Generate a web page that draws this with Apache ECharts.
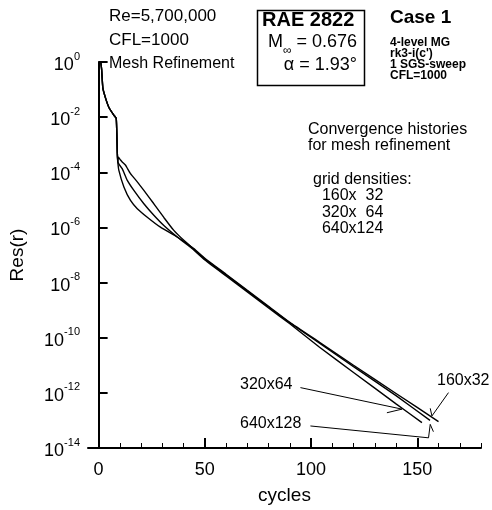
<!DOCTYPE html>
<html>
<head>
<meta charset="utf-8">
<script src="https://cdn.jsdelivr.net/npm/echarts@6/dist/echarts.min.js"></script>
<style>
  html, body { margin: 0; padding: 0; background: #fff; }
  #chart { width: 492px; height: 510px; }
</style>
</head>
<body>
<div id="chart"></div>
<script>
// residual histories, [cycle, Res(r)]
const startPart = [[1, 1], [1.4, 0.56], [2, 0.112], [3.3, 0.048], [4.9, 0.022], [7.2, 0.0117], [8.3, 0.0089], [8.8, 5.0e-4], [9.0, 2.5e-4]]
const res640 = [[9.3, 3.5e-4], [10.3, 2.8e-4], [11, 2.4e-4], [12.7, 1.8e-4], [13.5, 1.4e-4], [15, 8.9e-5], [18.2, 4.5e-5], [21.3, 2.2e-5], [26, 7.2e-6], [30.7, 2.3e-6], [35.4, 7.8e-7], [40.1, 3.4e-7], [46.4, 1.26e-7], [50, 7.1e-8], [60, 1.9e-8], [70, 5.0e-9], [80, 1.3e-9], [90, 3.5e-10], [104, 6.3e-11], [120, 8.9e-12], [140, 7.9e-13], [156, 1.0e-13]]
const res320 = [[9.5, 2.0e-4], [11.1, 1.35e-4], [13.5, 5.1e-5], [16.6, 2.2e-5], [21.3, 7.2e-6], [26, 2.75e-6], [30.7, 1.17e-6], [37, 4.5e-7], [43.3, 1.9e-7], [50, 6.6e-8], [60, 1.74e-8], [70, 4.6e-9], [80, 1.2e-9], [90, 3.2e-10], [104, 4.5e-11], [120, 5.5e-12], [140, 4.0e-13], [152.2, 8.3e-14]]
const res160 = [[9.5, 1.2e-4], [11.9, 2.95e-5], [15, 9.5e-6], [18.2, 4.8e-6], [22.9, 2.35e-6], [29.1, 1.02e-6], [37, 4.5e-7], [44.8, 1.7e-7], [50, 7.6e-8], [60, 2.0e-8], [70, 5.2e-9], [80, 1.38e-9], [90, 3.6e-10], [104, 6.8e-11], [120, 1.0e-11], [140, 9.5e-13], [160, 9.1e-14]]

const xTicks = [0, 50, 100, 150]
const xMinorTicks = [10, 20, 30, 40, 60, 70, 80, 90, 110, 120, 130, 140, 160, 170, 180]

// label pointers, in data coordinates
const pointer320 = [[95.0, 1.55e-12], [142.8, 2.57e-13], [135.7, 1.9e-13]]
const pointer640 = [[99.7, 6.3e-14], [155.3, 2.34e-14], [156.1, 7.2e-14], [157.6, 3.9e-14]]
const pointer160 = [[164.7, 1.02e-12], [156.9, 1.45e-13], [156.1, 2.75e-13]]

const font = 'Liberation Sans, Arial, Helvetica, sans-serif'

const seg = (a, b) => [{ coord: a }, { coord: b }]

const chart = echarts.init(document.getElementById('chart'))

const lineSeries = (name, data, marks) => ({
  name,
  type: 'line',
  data: startPart.concat(data),
  showSymbol: false,
  symbol: 'none',
  smooth: 0.15,
  lineStyle: { color: '#000', width: 1.4 },
  silent: true,
  markLine: {
    silent: true,
    symbol: 'none',
    label: { show: false },
    lineStyle: { color: '#000', width: 1, type: 'solid' },
    data: marks
  }
})

chart.setOption({
  animation: false,
  grid: { left: 87, right: 11, top: 62, bottom: 62, containLabel: false },
  xAxis: [{
    type: 'value',
    min: -5,
    max: 180,
    name: 'cycles',
    nameLocation: 'middle',
    nameGap: 38,
    nameTextStyle: { fontFamily: font, fontSize: 19, color: '#000' },
    splitLine: { show: false },
    axisLine: { lineStyle: { color: '#000', width: 2 } },
    axisTick: { inside: true, length: 10, customValues: xTicks, lineStyle: { color: '#000', width: 2 } },
    axisLabel: { customValues: xTicks, margin: 13, fontFamily: font, fontSize: 18, color: '#000' }
  }, {
    type: 'value',
    min: -5,
    max: 180,
    position: 'bottom',
    splitLine: { show: false },
    axisLine: { show: false },
    axisTick: { inside: true, length: 5, customValues: xMinorTicks, lineStyle: { color: '#000', width: 1 } },
    axisLabel: { show: false }
  }],
  yAxis: {
    type: 'log',
    logBase: 100,
    min: 1e-14,
    max: 1,
    name: 'Res(r)',
    nameLocation: 'middle',
    nameGap: 61,
    nameTextStyle: { fontFamily: font, fontSize: 19, color: '#000' },
    splitLine: { show: false },
    minorTick: { show: false },
    axisLine: { lineStyle: { color: '#000', width: 2 } },
    axisTick: { inside: true, length: 9, lineStyle: { color: '#000', width: 2 } },
    axisLabel: {
      margin: 8,
      formatter: v => '{b|10}{s|' + Math.round(Math.log10(v)) + '}',
      rich: {
        b: { fontFamily: font, fontSize: 18, color: '#000', lineHeight: 22, padding: [6, 0, 0, 0] },
        s: { fontFamily: font, fontSize: 11, color: '#000', verticalAlign: 'top', lineHeight: 12 }
      }
    }
  },
  series: [
    lineSeries('640x128', res640, [
      seg(pointer640[0], pointer640[1]), seg(pointer640[1], pointer640[2]), seg(pointer640[2], pointer640[3])
    ]),
    lineSeries('320x64', res320, [
      seg(pointer320[0], pointer320[1]), seg(pointer320[1], pointer320[2])
    ]),
    lineSeries('160x32', res160, [
      seg(pointer160[0], pointer160[1]), seg(pointer160[1], pointer160[2])
    ])
  ],
  graphic: [
    { type: 'text', left: 109, top: 8, style: { text: 'Re=5,700,000', font: '17px ' + font, fill: '#000' } },
    { type: 'text', left: 109, top: 32, style: { text: 'CFL=1000', font: '17px ' + font, fill: '#000' } },
    { type: 'text', left: 109, top: 56, style: { text: 'Mesh Refinement', font: '16px ' + font, fill: '#000' } },
    { type: 'rect', left: 255, top: 8, shape: { width: 107, height: 75 }, style: { fill: 'none', stroke: '#000', lineWidth: 1.5 } },
    { type: 'text', left: 262, top: 10, style: { text: 'RAE 2822', font: 'bold 20px ' + font, fill: '#000' } },
    {
      type: 'text', right: 135, top: 33,
      style: {
        text: '{a|M}{s|∞}{a| = 0.676}',
        rich: {
          a: { fontFamily: font, fontSize: 18, fill: '#000', lineHeight: 22 },
          s: { fontFamily: font, fontSize: 12, fill: '#000', verticalAlign: 'bottom', lineHeight: 12, padding: [0, 0, -4, 0] }
        }
      }
    },
    { type: 'text', right: 135, top: 56, style: { text: 'α = 1.93°', font: '18px ' + font, fill: '#000' } },
    { type: 'text', left: 390, top: 8, style: { text: 'Case 1', font: 'bold 19px ' + font, fill: '#000' } },
    { type: 'text', left: 390, top: 37, style: { text: '4-level MG\nrk3-i(c\')\n1 SGS-sweep\nCFL=1000', font: 'bold 12px ' + font, fill: '#000', lineHeight: 11 } },
    { type: 'text', left: 308, top: 122, style: { text: 'Convergence histories\nfor mesh refinement', font: '16px ' + font, fill: '#000', lineHeight: 16 } },
    { type: 'text', left: 313, top: 171, style: { text: 'grid densities:\n  160x  32\n  320x  64\n  640x124', font: '16px ' + font, fill: '#000', lineHeight: 16.5 } },
    { type: 'text', left: 240, top: 377, style: { text: '320x64', font: '16px ' + font, fill: '#000' } },
    { type: 'text', left: 240, top: 416, style: { text: '640x128', font: '16px ' + font, fill: '#000' } },
    { type: 'text', left: 437, top: 373, style: { text: '160x32', font: '16px ' + font, fill: '#000' } }
  ]
})
</script>
</body>
</html>
